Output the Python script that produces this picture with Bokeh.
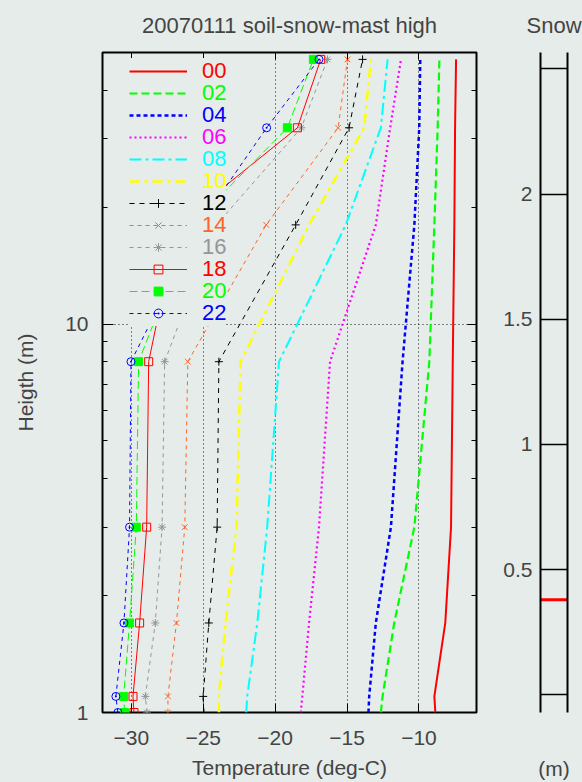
from bokeh.plotting import figure
from bokeh.models import FixedTicker, LinearAxis, LogAxis, Legend, LegendItem, Range1d
from bokeh.layouts import row
from bokeh.embed import file_html
from bokeh.resources import INLINE

# ---------------- data ----------------
heights = [1.0, 1.1, 1.7, 3.0, 8.0, 18.0, 32.0, 48.0]   # m

hour_labels = ["00", "02", "04", "06", "08", "10", "12", "14", "16", "18", "20", "22"]

t00 = [-8.86, -8.93, -8.17, -7.77, -7.65, -7.54, -7.49, -7.42]
t02 = [-12.65, -12.53, -11.72, -10.32, -9.28, -8.93, -8.70, -8.58]
t04 = [-13.51, -13.46, -13.00, -11.95, -11.14, -10.32, -9.98, -9.91]
t06 = [-18.22, -18.11, -17.64, -16.95, -16.18, -13.00, -12.00, -11.25]
t08 = [-22.01, -21.94, -21.24, -20.55, -19.73, -15.09, -12.65, -12.18]
t10 = [-23.91, -23.91, -23.45, -22.68, -22.40, -17.64, -13.81, -13.34]
t12 = [-24.96, -25.00, -24.61, -24.03, -23.91, -18.57, -14.86, -13.92]
t14 = [-27.45, -27.45, -26.86, -26.28, -26.07, -20.62, -15.62, -14.97]
t16 = [-28.91, -29.02, -28.33, -27.86, -27.68, -24.08, -18.18, -16.36]
t18 = [-29.81, -29.88, -29.42, -28.93, -28.79, -26.82, -18.45, -16.83]
t20 = [-30.46, -30.53, -30.12, -29.65, -29.49, -25.77, -19.15, -17.34]
t22 = [-30.93, -31.07, -30.51, -30.12, -30.02, -25.26, -20.59, -16.95]

temps = [t00, t02, t04, t06, t08, t10, t12, t14, t16, t18, t20, t22]

x_ticks = [-30, -25, -20, -15, -10]
y_major = [1, 10]
y_minor = [2, 3, 4, 5, 6, 7, 8, 9, 20, 30, 40, 50]

snow_depth = [0.38]
snow_grid = [0.0, 0.5, 1.0, 1.5, 2.0, 2.5]
snow_labels = [0.5, 1.0, 1.5, 2.0]

# ---------------- styles ----------------
BG = "#E5ECE9"
FONT = "Liberation Sans"
colors = ["#FF0000", "#00FF00", "#0000FF", "#FF00FF", "#00FFFF", "#FFFF00",
          "#000000", "#FF6428", "#969696", "#FF0000", "#00FF00", "#0000FF"]
dashes = ["solid", "8 4", "4 3", "2 3", "12 4 3 4", "10 5 3 5",
          "5 5", "4 4", "4 4", "solid", "8 4", "4 4"]
widths = [2, 2.2, 2.5, 2.2, 2, 2.5, 1, 1, 1, 1, 1, 1]
markers = [None, None, None, None, None, None,
           "cross", "x", "asterisk", "square", "square", "circle_dot"]
marker_fill = [None] * 9 + [None, "#00FF00", None]

# ---------------- main figure ----------------
p = figure(width=500, height=782, x_range=Range1d(-32, -6), y_range=Range1d(1, 50),
           y_axis_type="log", output_backend="svg", toolbar_location=None,
           min_border_left=102, min_border_right=24, min_border_top=52, min_border_bottom=70,
           background_fill_color=BG, border_fill_color=BG,
           outline_line_color="black", outline_line_width=2,
           title="20070111 soil-snow-mast high")
p.title.align = "center"
p.title.vertical_align = "top"
p.title.text_font = FONT
p.title.text_font_size = "22px"
p.title.text_font_style = "normal"
p.title.standoff = 25

xax = p.xaxis[0]
xax.ticker = FixedTicker(ticks=x_ticks, minor_ticks=[])
xax.major_tick_in = 9
xax.major_tick_out = 0
xax.minor_tick_in = 0
xax.minor_tick_out = 0
xax.axis_line_color = None
xax.major_tick_line_color = "black"
xax.major_label_text_font = FONT
xax.major_label_text_font_size = "21px"
xax.major_label_standoff = 18
xax.axis_label = "Temperature (deg-C)"
xax.axis_label_text_font = FONT
xax.axis_label_text_font_size = "21px"
xax.axis_label_text_font_style = "normal"
xax.axis_label_standoff = 8

yax = p.yaxis[0]
yax.ticker = FixedTicker(ticks=y_major, minor_ticks=y_minor)
yax.major_label_overrides = {v: str(v) for v in y_major}
yax.major_tick_in = 11
yax.major_tick_out = 0
yax.minor_tick_in = 5
yax.minor_tick_out = 0
yax.axis_line_color = None
yax.major_label_text_font = FONT
yax.major_label_text_font_size = "21px"
yax.major_label_standoff = 14
yax.axis_label = "Heigth (m)"
yax.axis_label_text_font = FONT
yax.axis_label_text_font_size = "21px"
yax.axis_label_text_font_style = "normal"
yax.axis_label_standoff = 25

top_ax = LinearAxis(ticker=FixedTicker(ticks=x_ticks, minor_ticks=[]),
                    major_tick_in=7, major_tick_out=0, minor_tick_in=0, minor_tick_out=0,
                    axis_line_color=None, major_label_text_font_size="0px",
                    major_label_standoff=0,
                    major_label_overrides={v: "" for v in x_ticks})
p.add_layout(top_ax, "above")
right_ax = LogAxis(ticker=FixedTicker(ticks=y_major, minor_ticks=y_minor),
                   major_tick_in=9, major_tick_out=0, minor_tick_in=5, minor_tick_out=0,
                   axis_line_color=None, major_label_text_font_size="0px",
                   major_label_standoff=0,
                   major_label_overrides={v: "" for v in y_major})
p.add_layout(right_ax, "right")

p.xgrid[0].ticker = FixedTicker(ticks=x_ticks, minor_ticks=[])
p.ygrid[0].ticker = FixedTicker(ticks=y_major, minor_ticks=[])
for g in (p.xgrid[0], p.ygrid[0]):
    g.grid_line_color = "black"
    g.grid_line_dash = "1 3"
    g.grid_line_width = 1
    g.grid_line_alpha = 0.9

legend_step = 22
legend_base = 627.7
for i, lab in enumerate(hour_labels):
    rs = []
    rl = p.line(x=temps[i], y=heights, line_color=colors[i], line_dash=dashes[i],
                line_width=widths[i])
    rs.append(rl)
    if markers[i] is not None:
        rm = p.scatter(x=temps[i], y=heights, marker=markers[i], size=8,
                       line_color=colors[i], line_width=1,
                       fill_color=marker_fill[i] if marker_fill[i] else None)
        rs.append(rm)
    leg = Legend(items=[LegendItem(label=lab, renderers=rs)],
                 location=(27, legend_base - legend_step * i),
                 padding=0, margin=0, spacing=0,
                 glyph_width=58, glyph_height=22, label_height=22,
                 label_standoff=15,
                 label_text_font=FONT, label_text_font_size="22px",
                 label_text_color=colors[i],
                 background_fill_color=BG, background_fill_alpha=1.0,
                 border_line_color=None, level="underlay")
    p.add_layout(leg, "center")

# ---------------- snow panel ----------------
p2 = figure(width=82, height=782, x_range=Range1d(0, 1), y_range=Range1d(-0.07, 2.565),
            output_backend="svg", toolbar_location=None,
            min_border_left=39, min_border_right=15, min_border_top=52, min_border_bottom=70,
            background_fill_color=BG, border_fill_color=BG, outline_line_color=None,
            title="Snow")
p2.title.align = "center"
p2.title.vertical_align = "top"
p2.title.text_font = FONT
p2.title.text_font_size = "22px"
p2.title.text_font_style = "normal"
p2.title.standoff = 25

p2.xgrid.visible = False
p2.ygrid[0].ticker = FixedTicker(ticks=snow_grid, minor_ticks=[])
p2.ygrid[0].grid_line_color = "black"
p2.ygrid[0].grid_line_width = 1.5

ax2 = p2.yaxis[0]
ax2.ticker = FixedTicker(ticks=snow_labels, minor_ticks=[])
ax2.major_label_overrides = {v: f"{v:g}" for v in snow_labels}
ax2.major_tick_in = 0
ax2.major_tick_out = 0
ax2.minor_tick_in = 0
ax2.minor_tick_out = 0
ax2.axis_line_color = "black"
ax2.axis_line_width = 2
ax2.major_label_text_font = FONT
ax2.major_label_text_font_size = "21px"
ax2.major_label_standoff = 8

r_ax2 = LinearAxis(ticker=FixedTicker(ticks=[], minor_ticks=[]),
                   major_tick_in=0, major_tick_out=0, minor_tick_in=0, minor_tick_out=0,
                   axis_line_color="black", axis_line_width=2,
                   major_label_text_font_size="0px", major_label_standoff=0)
p2.add_layout(r_ax2, "right")

bx2 = p2.xaxis[0]
bx2.ticker = FixedTicker(ticks=[], minor_ticks=[])
bx2.major_tick_in = 0
bx2.major_tick_out = 0
bx2.minor_tick_in = 0
bx2.minor_tick_out = 0
bx2.axis_line_color = None
bx2.major_label_text_font_size = "0px"
bx2.major_label_standoff = 0
bx2.axis_label = "(m)"
bx2.axis_label_text_font = FONT
bx2.axis_label_text_font_size = "21px"
bx2.axis_label_text_font_style = "normal"
bx2.axis_label_standoff = 44

p2.segment(x0=[0], x1=[1], y0=snow_depth, y1=snow_depth, line_color="#FF0000", line_width=3)

layout = row(p, p2)
html = file_html(layout, INLINE)
html = html.replace("<head>", "<head><style>body{background:%s;}</style>" % BG, 1)
open("out.html", "w").write(html)
